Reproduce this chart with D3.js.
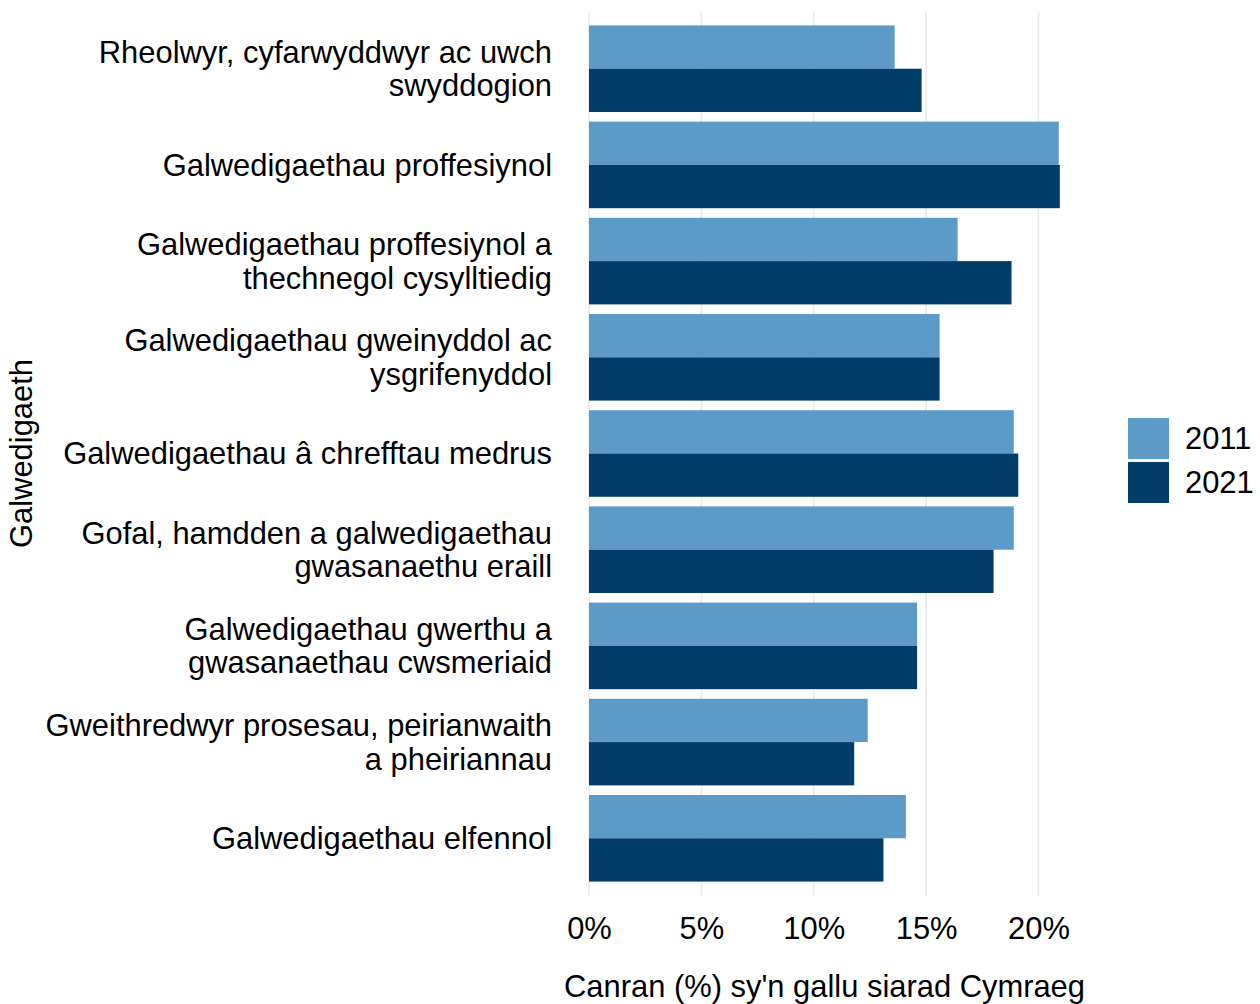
<!DOCTYPE html>
<html>
<head>
<meta charset="utf-8">
<script src="https://cdn.jsdelivr.net/npm/d3@7"></script>
<style>
  html, body { margin: 0; padding: 0; background: #fff; }
  svg { display: block; font-family: "Liberation Sans", Arial, sans-serif; }
</style>
</head>
<body>
<svg id="chart" width="1260" height="1004"></svg>
<script>
// ---- Data ----
const categories = [
  "Rheolwyr, cyfarwyddwyr ac uwch swyddogion",
  "Galwedigaethau proffesiynol",
  "Galwedigaethau proffesiynol a thechnegol cysylltiedig",
  "Galwedigaethau gweinyddol ac ysgrifenyddol",
  "Galwedigaethau â chrefftau medrus",
  "Gofal, hamdden a galwedigaethau gwasanaethu eraill",
  "Galwedigaethau gwerthu a gwasanaethau cwsmeriaid",
  "Gweithredwyr prosesau, peirianwaith a pheiriannau",
  "Galwedigaethau elfennol"
];
const categoryLines = [
  ["Rheolwyr, cyfarwyddwyr ac uwch", "swyddogion"],
  ["Galwedigaethau proffesiynol"],
  ["Galwedigaethau proffesiynol a", "thechnegol cysylltiedig"],
  ["Galwedigaethau gweinyddol ac", "ysgrifenyddol"],
  ["Galwedigaethau â chrefftau medrus"],
  ["Gofal, hamdden a galwedigaethau", "gwasanaethu eraill"],
  ["Galwedigaethau gwerthu a", "gwasanaethau cwsmeriaid"],
  ["Gweithredwyr prosesau, peirianwaith", "a pheiriannau"],
  ["Galwedigaethau elfennol"]
];
const years = ["2011", "2021"];
const values2011 = [13.6, 20.9, 16.4, 15.6, 18.9, 18.9, 14.6, 12.4, 14.1];
const values2021 = [14.8, 20.95, 18.8, 15.6, 19.1, 18.0, 14.6, 11.8, 13.1];
const xTicks = [0, 5, 10, 15, 20];
const colors = ["#5C9AC7", "#023D6A"];
const xTitle = "Canran (%) sy'n gallu siarad Cymraeg";
const yTitle = "Galwedigaeth";

// ---- Build ----
const svg = d3.select("#chart");
const fontSize = 30.9;

const x = d3.scaleLinear().domain([0, 20]).range([589, 1038.5]);
const panelTop = 11, panelBottom = 896;
const y = d3.scaleBand().domain(categories).range([panelTop, panelBottom])
  .paddingInner(0.1).paddingOuter(0.15);
const yInner = d3.scaleBand().domain(years).range([0, y.bandwidth()]).padding(0);
const color = d3.scaleOrdinal().domain(years).range(colors);

const rows = categories.map((c, i) => ({
  cat: c, lines: categoryLines[i],
  vals: [{year: "2011", v: values2011[i]}, {year: "2021", v: values2021[i]}]
}));

// gridlines
svg.append("g").selectAll("line").data(xTicks).join("line")
  .attr("x1", d => x(d)).attr("x2", d => x(d))
  .attr("y1", panelTop).attr("y2", panelBottom)
  .attr("stroke", "#ebebeb").attr("stroke-width", 1.6);

// bars
const groups = svg.append("g").selectAll("g").data(rows).join("g")
  .attr("transform", d => `translate(0,${y(d.cat)})`);
groups.selectAll("rect").data(d => d.vals).join("rect")
  .attr("x", x(0))
  .attr("y", d => yInner(d.year))
  .attr("width", d => x(d.v) - x(0))
  .attr("height", yInner.bandwidth())
  .attr("fill", d => color(d.year));

// y axis labels
const lineGap = 33.5;
const ylab = svg.append("g").selectAll("text").data(rows).join("text")
  .attr("text-anchor", "end")
  .attr("font-size", fontSize)
  .attr("fill", "#000");
ylab.each(function(d) {
  const cy = y(d.cat) + y.bandwidth() / 2;
  const n = d.lines.length;
  d3.select(this).selectAll("tspan").data(d.lines).join("tspan")
    .attr("x", 552)
    .attr("y", (l, j) => cy + (j - (n - 1) / 2) * lineGap + fontSize * 0.35)
    .text(l => l);
});

// x axis tick labels
const xAxis = d3.axisBottom(x).tickValues(xTicks).tickFormat(d => d + "%").tickSize(0).tickPadding(0);
const xg = svg.append("g").attr("transform", `translate(0,${panelBottom})`).call(xAxis);
xg.select(".domain").remove();
xg.selectAll("text")
  .attr("dy", null).attr("y", 43)
  .attr("font-size", fontSize).attr("font-family", "Liberation Sans, Arial, sans-serif")
  .attr("fill", "#000");

// axis titles
svg.append("text")
  .attr("x", 824.5).attr("y", 997)
  .attr("text-anchor", "middle").attr("font-size", fontSize).attr("fill", "#000")
  .text(xTitle);
svg.append("text")
  .attr("transform", `translate(32,${(panelTop + panelBottom) / 2}) rotate(-90)`)
  .attr("text-anchor", "middle").attr("font-size", fontSize).attr("fill", "#000")
  .text(yTitle);

// legend
const leg = svg.append("g").attr("transform", "translate(1128,418)");
const legItems = leg.selectAll("g").data(years).join("g")
  .attr("transform", (d, i) => `translate(0,${i * 44})`);
legItems.append("rect").attr("width", 41).attr("height", 41).attr("fill", d => color(d));
legItems.append("text").attr("x", 57).attr("y", 20.5 + fontSize * 0.35)
  .attr("font-size", fontSize).attr("fill", "#000").text(d => d);
</script>
</body>
</html>
